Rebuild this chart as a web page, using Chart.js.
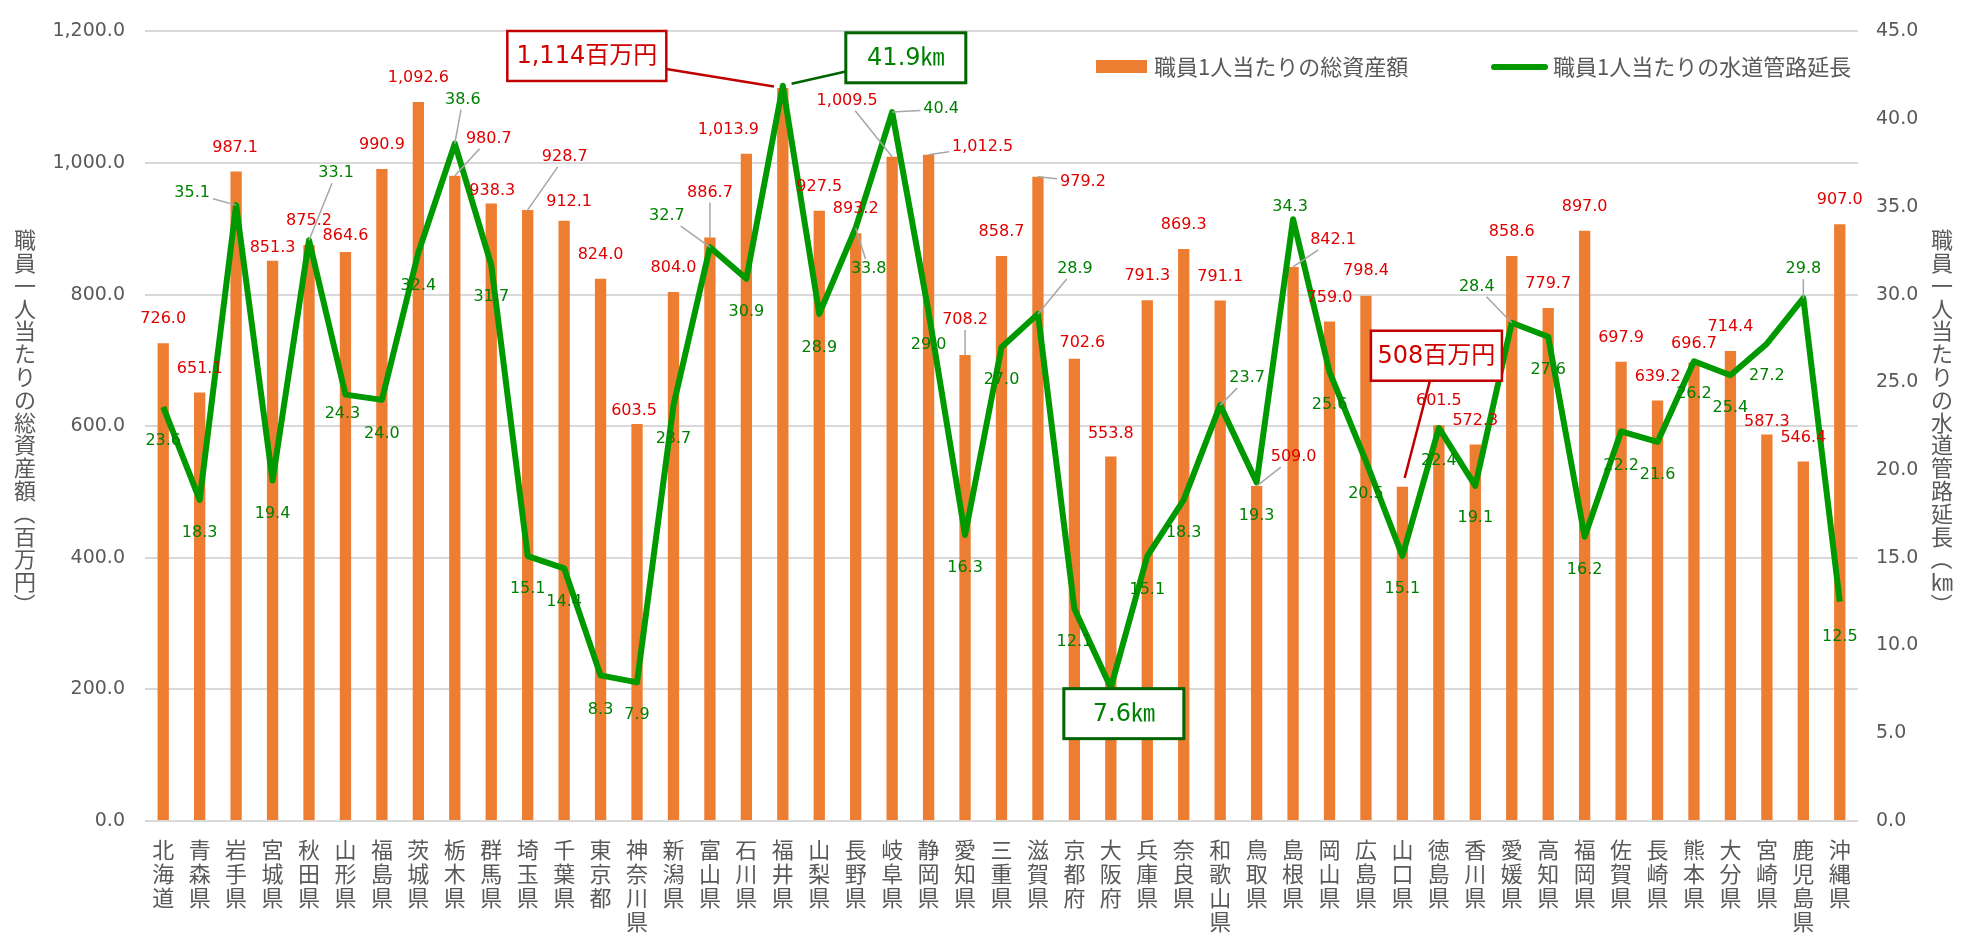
<!DOCTYPE html>
<html lang="ja">
<head>
<meta charset="utf-8">
<script src="https://cdn.jsdelivr.net/npm/chart.js@4.4.0/dist/chart.umd.min.js"></script>
<style>
  html, body { margin: 0; padding: 0; background: #fff; }
  #wrap { width: 1974px; height: 936px; position: relative; }
</style>
</head>
<body>
<div id="wrap"><canvas id="chart"></canvas></div>
<script>
// ---- data ----
const prefectures = ["北海道", "青森県", "岩手県", "宮城県", "秋田県", "山形県", "福島県", "茨城県", "栃木県", "群馬県",
    "埼玉県", "千葉県", "東京都", "神奈川県", "新潟県", "富山県", "石川県", "福井県", "山梨県", "長野県",
    "岐阜県", "静岡県", "愛知県", "三重県", "滋賀県", "京都府", "大阪府", "兵庫県", "奈良県", "和歌山県",
    "鳥取県", "島根県", "岡山県", "広島県", "山口県", "徳島県", "香川県", "愛媛県", "高知県", "福岡県",
    "佐賀県", "長崎県", "熊本県", "大分県", "宮崎県", "鹿児島県", "沖縄県"];

// 職員1人当たりの総資産額（百万円）
const assetPerStaff = [726.0, 651.1, 987.1, 851.3, 875.2, 864.6, 990.9, 1092.6, 980.7, 938.3,
    928.7, 912.1, 824.0, 603.5, 804.0, 886.7, 1013.9, 1114.0, 927.5, 893.2,
    1009.5, 1012.5, 708.2, 858.7, 979.2, 702.6, 553.8, 791.3, 869.3, 791.1,
    509.0, 842.1, 759.0, 798.4, 508.0, 601.5, 572.3, 858.6, 779.7, 897.0,
    697.9, 639.2, 696.7, 714.4, 587.3, 546.4, 907.0];

// 職員1人当たりの水道管路延長（km）
const pipePerStaff = [23.6, 18.3, 35.1, 19.4, 33.1, 24.3, 24.0, 32.4, 38.6, 31.7,
    15.1, 14.4, 8.3, 7.9, 23.7, 32.7, 30.9, 41.9, 28.9, 33.8,
    40.4, 29.0, 16.3, 27.0, 28.9, 12.1, 7.6, 15.1, 18.3, 23.7,
    19.3, 34.3, 25.6, 20.5, 15.1, 22.4, 19.1, 28.4, 27.6, 16.2,
    22.2, 21.6, 26.2, 25.4, 27.2, 29.8, 12.5];

const seriesNames = ["職員1人当たりの総資産額", "職員1人当たりの水道管路延長"];
const leftTitle = "職員一人当たりの総資産額（百万円）";
const rightTitle = "職員一人当たりの水道管路延長（㎞）";
const leftAxis = { max: 1200, step: 200 };
const rightAxis = { max: 45, step: 5 };

// indices with a boxed callout instead of a plain label
const maxIdx = 17;      // 福井県
const minAssetIdx = 34; // 山口県
const minPipeIdx = 26;  // 大阪府

// ---- label placement (offset from the mark, px; third item = leader line) ----
const barLabelPos = [
    [0, -24], [0, -24], [-1, -24], [0, -13], [0, -24], [0, -16], [0, -24], [0, -24], [34, -37, 1], [1, -13],
    [37, -53, 1], [5, -19], [0, -24], [-3, -13], [0, -24], [0, -45, 1], [-18, -24], null, [0, -24], [0, -24],
    [-45, -56, 1], [54, -8, 1], [0, -35, 1], [0, -24], [45, 5, 1], [8, -16], [0, -23], [0, -24], [0, -24], [0, -24],
    [37, -29, 1], [40, -27, 1], [0, -24], [0, -25], null, [0, -24], [0, -24], [0, -24], [0, -24], [0, -24],
    [0, -24], [0, -24], [0, -19], [0, -24], [0, -13], [0, -24], [0, -24]];
const lineLabelPos = [
    [0, 34], [0, 33], [-44, -12, 1], [0, 33], [27, -67, 1], [-3, 19], [0, 34], [0, 33], [8, -44, 1], [0, 32],
    [0, 33], [0, 34], [0, 34], [0, 32], [0, 34], [-43, -31, 1], [0, 33], null, [0, 34], [13, 41, 1],
    [49, -3, 1], [0, 33], [0, 33], [0, 33], [37, -45, 1], [0, 33], null, [0, 34], [0, 33], [27, -27, 1],
    [0, 33], [-3, -12], [0, 33], [0, 33], [0, 33], [0, 33], [0, 32], [-35, -36, 1], [0, 33], [0, 33],
    [0, 34], [0, 33], [0, 33], [0, 33], [0, 32], [0, -29, 1], [0, 35]];

const NUM_FONT = '"DejaVu Sans", "Noto Sans CJK JP", sans-serif';
const JP_FONT = '"Noto Sans CJK JP", "DejaVu Sans", sans-serif';
const barColor = "#ED7D31";
const lineColor = "#009a00";
const axisText = "#595959";

function fmt1(v) {
    return v.toLocaleString("en-US", { minimumFractionDigits: 1, maximumFractionDigits: 1 });
}

function edgePoint(cx, cy, w, h, tx, ty) {
    const dx = tx - cx, dy = ty - cy;
    const sx = dx === 0 ? Infinity : (w / 2) / Math.abs(dx);
    const sy = dy === 0 ? Infinity : (h / 2) / Math.abs(dy);
    const s = Math.min(sx, sy, 1);
    return [cx + dx * s, cy + dy * s];
}

function drawLabels(ctx, meta, values, pos, color) {
    meta.data.forEach((el, i) => {
        const p = pos[i];
        if (!p) return;
        const text = fmt1(values[i]);
        const cx = el.x + p[0], cy = el.y + p[1];
        if (p[2]) {
            const w = ctx.measureText(text).width + 6;
            const s = edgePoint(cx, cy, w, 20, el.x, el.y);
            ctx.strokeStyle = "#a6a6a6";
            ctx.lineWidth = 1.5;
            ctx.beginPath();
            ctx.moveTo(s[0], s[1]);
            ctx.lineTo(el.x, el.y);
            ctx.stroke();
        }
        ctx.fillStyle = color;
        ctx.fillText(text, cx, cy);
    });
}

function drawCallout(ctx, text, ax, ay, dx, dy, w, h, textColor, border, bw, leader) {
    const cx = ax + dx, cy = ay + dy;
    if (leader) {
        const s = edgePoint(cx, cy, w, h, ax, ay);
        const len = Math.hypot(ax - s[0], ay - s[1]);
        const k = (len - 9) / len;
        ctx.strokeStyle = border;
        ctx.lineWidth = 2.5;
        ctx.beginPath();
        ctx.moveTo(s[0], s[1]);
        ctx.lineTo(s[0] + (ax - s[0]) * k, s[1] + (ay - s[1]) * k);
        ctx.stroke();
    }
    ctx.fillStyle = "#fff";
    ctx.fillRect(cx - w / 2, cy - h / 2, w, h);
    ctx.strokeStyle = border;
    ctx.lineWidth = bw;
    ctx.strokeRect(cx - w / 2, cy - h / 2, w, h);
    ctx.fillStyle = textColor;
    ctx.font = "24px " + NUM_FONT;
    ctx.fillText(text, cx, cy + 1);
}

function drawVertical(ctx, text, cx, cy, pitch) {
    const chars = Array.from(text);
    let y = cy - (chars.length * pitch) / 2 + pitch / 2;
    chars.forEach(ch => {
        ctx.save();
        ctx.translate(cx, y);
        if (ch === "（" || ch === "）") ctx.rotate(Math.PI / 2);
        ctx.fillText(ch, 0, 0);
        ctx.restore();
        y += pitch;
    });
}

const decorPlugin = {
    id: "decor",
    afterDatasetsDraw(chart) {
        const ctx = chart.ctx;
        const bars = chart.getDatasetMeta(0);
        const line = chart.getDatasetMeta(1);
        ctx.save();
        ctx.textAlign = "center";
        ctx.textBaseline = "middle";
        ctx.font = "16px " + NUM_FONT;
        drawLabels(ctx, bars, assetPerStaff, barLabelPos, "#e00000");
        drawLabels(ctx, line, pipePerStaff, lineLabelPos, "#008000");

        const bMax = bars.data[maxIdx], pMax = line.data[maxIdx];
        drawCallout(ctx, Math.round(assetPerStaff[maxIdx]).toLocaleString("en-US") + "百万円",
            bMax.x, bMax.y, -196, -32, 159, 50, "#d00000", "#c00000", 2.5, true);
        drawCallout(ctx, pipePerStaff[maxIdx].toFixed(1) + "㎞",
            pMax.x, pMax.y, 123, -28, 120, 50, "#008000", "#006400", 3, true);
        const pMin = line.data[minPipeIdx];
        drawCallout(ctx, pipePerStaff[minPipeIdx].toFixed(1) + "㎞",
            pMin.x, pMin.y, 13, 26, 120, 50, "#008000", "#006400", 3, false);
        const bMin = bars.data[minAssetIdx];
        drawCallout(ctx, Math.round(assetPerStaff[minAssetIdx]) + "百万円",
            bMin.x, bMin.y, 34, -131, 131, 50, "#d00000", "#c00000", 2.5, true);
        ctx.restore();
    },
    afterDraw(chart) {
        const { ctx, chartArea } = chart;
        const cy = (chartArea.top + chartArea.bottom) / 2 - 4;
        ctx.save();
        ctx.fillStyle = axisText;
        ctx.textAlign = "center";
        ctx.textBaseline = "middle";
        ctx.font = "22px " + JP_FONT;
        drawVertical(ctx, leftTitle, 25, cy, 22.8);
        drawVertical(ctx, rightTitle, 1942, cy, 22.8);

        // legend
        ctx.textAlign = "left";
        ctx.fillStyle = barColor;
        ctx.fillRect(1096, 60, 51, 13);
        ctx.fillStyle = axisText;
        ctx.fillText(seriesNames[0], 1154, 67);
        ctx.strokeStyle = lineColor;
        ctx.lineWidth = 6;
        ctx.lineCap = "round";
        ctx.beginPath();
        ctx.moveTo(1494, 67);
        ctx.lineTo(1545, 67);
        ctx.stroke();
        ctx.fillText(seriesNames[1], 1553, 67);
        ctx.restore();
    }
};

new Chart(document.getElementById("chart"), {
    type: "bar",
    data: {
        labels: prefectures,
        datasets: [
            {
                type: "bar",
                label: seriesNames[0],
                data: assetPerStaff,
                backgroundColor: barColor,
                yAxisID: "y",
                barPercentage: 0.31,
                categoryPercentage: 1,
                order: 2,
            },
            {
                type: "line",
                label: seriesNames[1],
                data: pipePerStaff,
                borderColor: lineColor,
                borderWidth: 6,
                borderJoinStyle: "round",
                pointRadius: 0,
                tension: 0,
                yAxisID: "y1",
                order: 1,
            },
        ],
    },
    options: {
        responsive: true,
        maintainAspectRatio: false,
        animation: false,
        layout: { padding: { top: 15, left: 0, right: 0, bottom: 0 } },
        plugins: {
            legend: { display: false },
            tooltip: { enabled: false },
        },
        scales: {
            x: {
                grid: { display: false },
                border: { display: false },
                ticks: {
                    autoSkip: false,
                    maxRotation: 0,
                    padding: 9,
                    color: axisText,
                    font: { family: JP_FONT, size: 22, lineHeight: "24px" },
                    callback: (v, i) => Array.from(prefectures[i]),
                },
                afterFit: s => { s.height = 115; },
            },
            y: {
                position: "left",
                min: 0,
                max: leftAxis.max,
                grid: { color: "#d9d9d9", lineWidth: 2, drawTicks: false },
                border: { display: false },
                ticks: {
                    stepSize: leftAxis.step,
                    padding: 20,
                    color: axisText,
                    font: { family: NUM_FONT, size: 19 },
                    callback: v => fmt1(v),
                },
                afterFit: s => { s.width = 145; },
            },
            y1: {
                position: "right",
                min: 0,
                max: rightAxis.max,
                grid: { drawOnChartArea: false, drawTicks: false },
                border: { display: false },
                ticks: {
                    stepSize: rightAxis.step,
                    padding: 18,
                    color: axisText,
                    font: { family: NUM_FONT, size: 19 },
                    callback: v => fmt1(v),
                },
                afterFit: s => { s.width = 116; },
            },
        },
    },
    plugins: [decorPlugin],
});
</script>
</body>
</html>
